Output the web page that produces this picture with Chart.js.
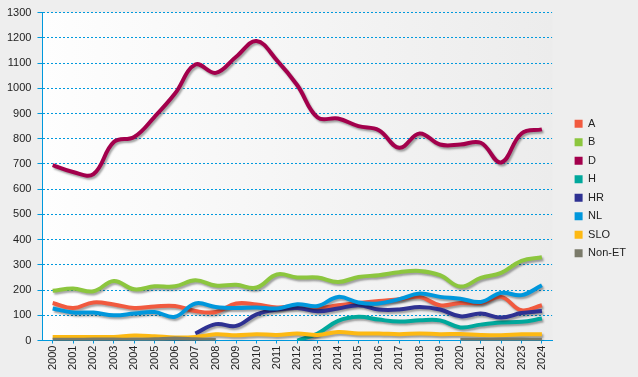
<!DOCTYPE html>
<html>
<head>
<meta charset="utf-8">
<script src="https://cdn.jsdelivr.net/npm/chart.js@4/dist/chart.umd.min.js"></script>
<style>
  html, body { margin: 0; padding: 0; background: #eeeeee; }
  #wrap { width: 638px; height: 377px; }
</style>
</head>
<body>
<div id="wrap"><canvas id="grafico"></canvas></div>
<script>
// Años (eje X)
const anios = ['2000','2001','2002','2003','2004','2005','2006','2007','2008','2009','2010','2011','2012',
               '2013','2014','2015','2016','2017','2018','2019','2020','2021','2022','2023','2024'];

// Series
const serieA   = [149,129,151,143,129,135,137,117,113,147,143,131,137,128,140,149,157,164,173,140,149,149,173,120,140];
const serieB   = [197,206,195,236,203,215,215,239,218,221,210,262,250,250,232,252,259,271,276,259,214,248,268,316,330];
const serieD   = [695,668,660,787,807,887,979,1094,1061,1125,1187,1111,1012,884,880,850,834,764,821,777,777,784,706,821,837];
const serieH   = [null,null,null,null,null,null,null,null,null,null,null,null,0,28,78,94,83,75,80,80,52,63,71,74,87];
const serieHR  = [null,null,null,null,null,null,null,28,65,58,104,123,129,116,127,140,123,123,133,123,96,107,91,109,117];
const serieNL  = [127,111,111,100,107,113,94,147,133,129,131,127,144,137,173,151,147,164,186,173,166,153,189,180,219];
const serieSLO = [14,14,14,14,20,17,12,14,25,21,25,22,28,22,34,28,28,25,28,25,26,22,21,25,25];
const serieNonET = [3,3,4,4,3,5,8,5,2,null,null,null,null,null,null,null,null,null,null,null,3,3,4,4,3];

// Marcas del eje Y
const ticksY = { min: 0, max: 1300, paso: 100 };

const COLORES = {
    A: '#f15a3f',
    B: '#8cc63e',
    D: '#a3004c',
    H: '#00a89c',
    HR: '#2e3192',
    NL: '#0097dc',
    SLO: '#fdb913',
    NonET: '#7a7a6a',
    eje: '#0099dd',
    texto: '#222222'
};

const FUENTE = 'Liberation Sans, Arial, sans-serif';

function crearSerie(nombre, datos, color, i) {
    return {
        label: nombre,
        data: datos,
        borderColor: color,
        backgroundColor: color,
        borderWidth: 4,
        tension: 0.4,
        fill: false,
        pointRadius: 0,
        pointHoverRadius: 0,
        spanGaps: false,
        order: -i   // las últimas series se dibujan encima
    };
}

// Fondo del área de trazado con degradado
const fondoArea = {
    id: 'fondoArea',
    beforeDraw(chart) {
        const { ctx, chartArea: a } = chart;
        const grad = ctx.createLinearGradient(a.left, 0, a.right, 0);
        grad.addColorStop(0, '#fefefe');
        grad.addColorStop(1, '#ececec');
        ctx.save();
        ctx.fillStyle = grad;
        ctx.fillRect(a.left, a.top, a.right - a.left, a.bottom - a.top);
        ctx.restore();
    }
};

// Sombra bajo las líneas
const sombra = {
    id: 'sombra',
    beforeDatasetsDraw(chart) {
        const ctx = chart.ctx;
        ctx.save();
        ctx.shadowColor = 'rgba(0,0,0,0.35)';
        ctx.shadowOffsetX = 1.5;
        ctx.shadowOffsetY = 2;
        ctx.shadowBlur = 2;
    },
    afterDatasetsDraw(chart) {
        chart.ctx.restore();
    }
};

// Subir un poco la leyenda
const ajusteLeyenda = {
    id: 'ajusteLeyenda',
    afterLayout(chart) {
        if (chart.legend) {
            chart.legend.top -= 2.5;
            chart.legend.bottom -= 2.5;
        }
    }
};

const ctx = document.getElementById('grafico').getContext('2d');

new Chart(ctx, {
    type: 'line',
    data: {
        labels: anios,
        datasets: [
            crearSerie('A', serieA, COLORES.A, 0),
            crearSerie('B', serieB, COLORES.B, 1),
            crearSerie('D', serieD, COLORES.D, 2),
            crearSerie('H', serieH, COLORES.H, 3),
            crearSerie('HR', serieHR, COLORES.HR, 4),
            crearSerie('NL', serieNL, COLORES.NL, 5),
            crearSerie('SLO', serieSLO, COLORES.SLO, 6),
            crearSerie('Non-ET', serieNonET, COLORES.NonET, 7)
        ]
    },
    options: {
        responsive: true,
        maintainAspectRatio: false,
        animation: false,
        layout: {
            padding: { left: 1, top: 10, right: 2, bottom: 5 }
        },
        plugins: {
            tooltip: { enabled: false },
            legend: {
                position: 'right',
                align: 'center',
                labels: {
                    boxWidth: 8,
                    boxHeight: 8,
                    padding: 7.5,
                    color: COLORES.texto,
                    font: { family: FUENTE, size: 11 },
                    sort: (a, b) => a.datasetIndex - b.datasetIndex,
                    generateLabels: function(chart) {
                        return Chart.defaults.plugins.legend.labels.generateLabels(chart)
                            .map(l => Object.assign(l, { lineWidth: 0, strokeStyle: 'transparent' }));
                    }
                }
            }
        },
        scales: {
            x: {
                offset: true,
                grid: {
                    offset: false,
                    drawOnChartArea: false,
                    drawTicks: true,
                    tickLength: 3,
                    color: COLORES.eje
                },
                border: { color: COLORES.eje, width: 1 },
                ticks: {
                    autoSkip: false,
                    maxRotation: 90,
                    minRotation: 90,
                    padding: 2,
                    color: COLORES.texto,
                    font: { family: FUENTE, size: 11 }
                }
            },
            y: {
                min: ticksY.min,
                max: ticksY.max,
                grid: {
                    color: COLORES.eje,
                    tickLength: 5,
                    tickColor: COLORES.eje,
                    tickBorderDash: []
                },
                border: { color: COLORES.eje, width: 1, dash: [2, 2] },
                ticks: {
                    stepSize: ticksY.paso,
                    padding: 6,
                    color: COLORES.texto,
                    font: { family: FUENTE, size: 11 },
                    callback: function(valor) { return String(valor); }
                }
            },
            espacio: {
                type: 'linear',
                position: 'right',
                display: true,
                min: 0,
                max: 1,
                grid: { display: false, drawTicks: false },
                border: { display: false },
                ticks: { display: false },
                afterFit: function(escala) { escala.width = 15; }
            }
        }
    },
    plugins: [fondoArea, sombra, ajusteLeyenda]
});
</script>
</body>
</html>
